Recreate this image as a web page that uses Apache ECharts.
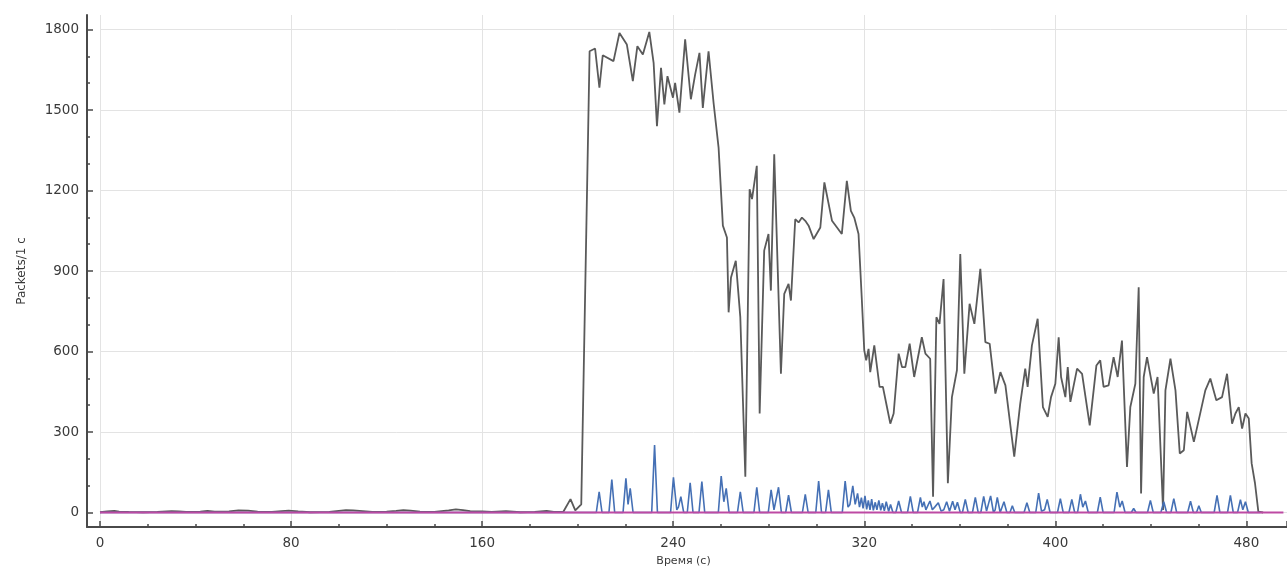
<!DOCTYPE html>
<html>
<head>
<meta charset="utf-8">
<title>Packets/1 с</title>
<script src="https://cdn.jsdelivr.net/npm/echarts@6/dist/echarts.min.js"></script>
<style>
  html, body { margin: 0; padding: 0; background: #ffffff; }
  #chart { width: 1287px; height: 573px; }
</style>
</head>
<body>
<div id="chart"></div>
<script>
// Axis titles and tick settings
const xTitle = 'Время (с)';
const yTitle = 'Packets/1 с';
const xTickStep = 80;   // ticks at 0, 80, ... 480
const yTickStep = 300;  // ticks at 0, 300, ... 1800
const xMax = 497;
const yMax = 1800;

// Total packets per second: [time (s), packets]
const totalPackets = [
  [0,1],[3,4],[6,6],[8,3],[12,2],[18,1],[24,2],[30,5],[33,4],[36,2],[42,3],[45,6],[48,3],
  [54,4],[58,8],[62,7],[66,3],[72,2],[76,5],[79,7],[83,4],[88,1],[96,2],[100,6],[103,9],
  [106,8],[110,5],[114,2],[120,3],[124,6],[127,9],[130,7],[134,3],[140,2],[146,8],[149,12],
  [152,9],[155,5],[160,4],[164,2],[170,5],[176,1],[182,2],[187,6],[190,2],[194,3],[197,50],
  [199,8],[201.5,30],
  [205,1719],[207.3,1729],[209.1,1583],[210.5,1704],[215,1682],[217.5,1787],[220.6,1744],
  [223.1,1608],[225,1738],[227.3,1707],[230,1791],[231.8,1676],[233.2,1440],[234.9,1657],
  [236.3,1521],[237.6,1626],[239.9,1546],[240.8,1601],[242.6,1490],[245,1763],[247.4,1540],
  [249.2,1633],[251,1713],[252.4,1508],[254.8,1719],[256.9,1527],[259,1360],[260.8,1069],
  [262.5,1025],[263.2,746],[264.2,876],[266.2,938],[268.1,728],[270.2,133],[272,1205],
  [273,1168],[275,1292],[276.2,369],[278.1,976],[279.9,1038],[280.9,827],[282.3,1335],
  [285.1,517],[286.5,815],[288.3,852],[289.3,790],[291.1,1093],[292.5,1081],[293.9,1099],
  [295.3,1087],[296.7,1069],[298.8,1019],[301.6,1062],[303.3,1230],[306.5,1087],[310.6,1038],
  [312.7,1236],[314.4,1124],[315.8,1099],[317.6,1038],[319,790],[320,604],[320.8,567],
  [321.8,610],[322.5,523],[324.2,623],[326.4,468],[327.8,468],[329.5,393],[330.9,331],
  [332.3,369],[334.4,592],[335.8,542],[337.2,542],[339,629],[340.9,505],[344.1,653],
  [345.6,592],[347.6,573],[348.8,59],[350.2,728],[351.5,703],[353.2,870],[355,109],
  [356.7,430],[358.8,530],[360.2,963],[361.9,517],[364.1,778],[366.1,703],[368.6,908],
  [370.7,635],[372.5,629],[374.9,443],[377,523],[379.1,474],[382.8,208],[385.3,406],
  [387.4,536],[388.4,468],[390.2,623],[392.6,722],[394.8,393],[396.8,356],[398.2,430],
  [400,480],[401.4,653],[402.4,505],[404.2,430],[405.2,542],[406.3,412],[409.1,536],
  [411.2,517],[414.4,325],[417.2,548],[418.8,567],[420.2,468],[422.3,474],[424.4,579],
  [426.1,505],[427.9,641],[430,170],[431.4,393],[433.5,480],[434.9,839],[435.9,71],
  [437,505],[438.4,579],[441.2,443],[442.8,505],[445.1,9],[446.1,455],[448.2,573],
  [450.3,455],[452.1,220],[453.8,232],[455.2,375],[458,263],[460.8,375],[462.8,455],
  [464.9,499],[467.4,418],[469.8,430],[471.9,517],[474,331],[475.4,369],[476.8,393],
  [478.2,313],[479.6,369],[481,350],[482.2,183],[483.6,109],[485,3],[487,0]
];

// Second packet stream: short bursts
const burstPackets = [
  [0,0],[207.8,0],[209,77],[210.2,0],
  [213.1,0],[214.3,123],[215.5,0],
  [219,0],[220.2,127],[221.1,30],[222,90],[223.2,0],
  [231,0],[232.2,251],[233.4,0],
  [238.9,0],[240.1,131],[241.5,10],[242.2,20],[243.2,59],[244.4,0],
  [245.9,0],[247.1,111],[248.3,0],
  [250.8,0],[252,115],[253.2,0],
  [258.9,0],[260.1,136],[261.2,40],[262.2,90],[263.4,0],
  [266.9,0],[268.1,77],[269.3,0],
  [273.8,0],[275,94],[276.2,0],
  [279.8,0],[281,84],[282.2,10],[283,10],[284.1,94],[285.3,0],
  [287.1,0],[288.3,65],[289.5,0],
  [294.1,0],[295.3,68],[296.5,0],
  [299.7,0],[300.9,117],[302.1,0],
  [303.8,0],[305,84],[306.2,0],
  [310.8,0],[312,117],[313.2,20],[314,30],[315.2,99],[316.2,30],[317.2,71],[318,20],
  [318.8,55],[319.5,15],[320.3,62],[321,12],[321.7,45],[322.4,10],[323.1,50],[323.8,8],
  [324.6,38],[325.3,10],[326.1,45],[326.9,8],[327.6,35],[328.4,6],[329.2,40],[330.2,4],
  [331,30],[332,0],
  [333.2,0],[334.4,43],[335.6,0],
  [338.1,0],[339.3,60],[340.5,0],
  [342.3,0],[343.5,56],[344.3,20],[345,40],[345.8,10],[346.5,15],[347.5,43],[348.5,10],
  [349.5,20],[351,36],[352.2,5],[353.3,10],[354.5,40],[355.7,5],[357,42],[358,10],[359,38],[360.2,0],
  [361.1,0],[362.3,49],[363.5,0],
  [365.3,0],[366.5,56],[367.7,0],
  [368.8,0],[370,60],[371.2,5],[372,10],[372.9,62],[374.1,0],[374.8,10],[375.7,56],[376.9,0],
  [377.3,0],[378.5,40],[379.7,0],
  [381,0],[382,25],[383,0],
  [386.9,0],[388.1,36],[389.3,0],
  [391.8,0],[393,72],[394.2,5],[395.5,10],[396.6,49],[397.8,0],
  [400.9,0],[402.1,52],[403.3,0],
  [405.7,0],[406.9,49],[408.1,0],
  [409.3,0],[410.5,68],[411.5,20],[412.6,43],[413.8,0],
  [417.6,0],[418.8,57],[420,0],
  [424.6,0],[425.8,76],[427,20],[428,43],[429.2,0],
  [431.8,0],[432.8,15],[433.8,0],
  [438.6,0],[439.8,45],[441,0],
  [444.2,0],[445.4,40],[446.6,0],
  [448.4,0],[449.6,52],[450.8,0],
  [455.4,0],[456.6,42],[457.8,0],
  [459.1,0],[460.1,25],[461.1,0],
  [466.5,0],[467.7,64],[468.9,0],
  [472.1,0],[473.3,64],[474.5,0],
  [476.3,0],[477.5,48],[478.5,10],[479.6,40],[480.8,0],
  [486,0]
];

// Third stream stays at zero for the whole capture
const idlePackets = [[0,0],[495.5,0]];

const FONT = 'DejaVu Sans';
const labelColor = '#3a3a3a';
const spineColor = '#4a4a4a';
const gridColor = '#e3e3e3';

const chart = echarts.init(document.getElementById('chart'), null, { renderer: 'canvas' });

chart.setOption({
  animation: false,
  backgroundColor: '#ffffff',
  grid: [
    // frame for the two axis spines
    { left: 87, top: 15, right: 0, bottom: 46 },
    // time ticks, labels and vertical grid lines
    { left: 100, top: 15, right: 0, bottom: 46 },
    // plotting area: 0..1800 packets
    { left: 100, top: 29.5, right: 0, bottom: 60.5 }
  ],
  xAxis: [
    {
      gridIndex: 0, type: 'value', min: 0, max: 1,
      axisLine: { show: true, onZero: false, lineStyle: { color: spineColor, width: 2 } },
      axisTick: { show: false }, axisLabel: { show: false }, splitLine: { show: false }
    },
    {
      gridIndex: 1, type: 'value', min: 0, max: xMax, interval: xTickStep,
      axisLine: { show: false, onZero: false },
      axisTick: { show: true, inside: true, length: 6, lineStyle: { color: spineColor, width: 1.5 } },
      minorTick: { show: true, splitNumber: 4, length: 3, lineStyle: { color: spineColor, width: 1.5 } },
      axisLabel: {
        show: true, margin: 9, showMaxLabel: false,
        color: labelColor, fontFamily: FONT, fontSize: 13.5,
        formatter: (v) => String(v)
      },
      splitLine: { show: true, showMaxLine: false, lineStyle: { color: gridColor, width: 1 } },
      name: xTitle, nameLocation: 'middle', nameGap: 29,
      nameTextStyle: { color: labelColor, fontFamily: FONT, fontSize: 11, padding: [0, 20, 0, 0] }
    },
    {
      gridIndex: 2, type: 'value', min: 0, max: xMax, show: false
    }
  ],
  yAxis: [
    {
      gridIndex: 0, type: 'value', min: 0, max: 1,
      axisLine: { show: true, onZero: false, lineStyle: { color: spineColor, width: 2 } },
      axisTick: { show: false }, axisLabel: { show: false }, splitLine: { show: false }
    },
    {
      gridIndex: 1, type: 'value', min: 0, max: 1, show: false
    },
    {
      gridIndex: 2, type: 'value', min: 0, max: yMax, interval: yTickStep, offset: 13,
      axisLine: { show: false, onZero: false },
      axisTick: { show: true, inside: true, length: 6, lineStyle: { color: spineColor, width: 1.5 } },
      minorTick: { show: true, splitNumber: 3, length: 3, lineStyle: { color: spineColor, width: 1.5 } },
      axisLabel: {
        show: true, margin: 8, color: labelColor, fontFamily: FONT, fontSize: 13.5,
        formatter: (v) => String(v)
      },
      splitLine: { show: true, lineStyle: { color: gridColor, width: 1 } },
      name: yTitle, nameLocation: 'middle', nameGap: 59, nameRotate: 90,
      nameTextStyle: { color: labelColor, fontFamily: FONT, fontSize: 12 }
    }
  ],
  series: [
    {
      name: 'total', type: 'line', xAxisIndex: 2, yAxisIndex: 2,
      data: totalPackets, showSymbol: false, clip: false, z: 3,
      lineStyle: { color: '#5a5a5a', width: 1.8 }
    },
    {
      name: 'bursts', type: 'line', xAxisIndex: 2, yAxisIndex: 2,
      data: burstPackets, showSymbol: false, clip: false, z: 4,
      lineStyle: { color: '#4570b5', width: 1.6 }
    },
    {
      name: 'idle', type: 'line', xAxisIndex: 2, yAxisIndex: 2,
      data: idlePackets, showSymbol: false, clip: false, z: 5,
      lineStyle: { color: '#bd4aa3', width: 2.2 }
    }
  ]
});
</script>
</body>
</html>
